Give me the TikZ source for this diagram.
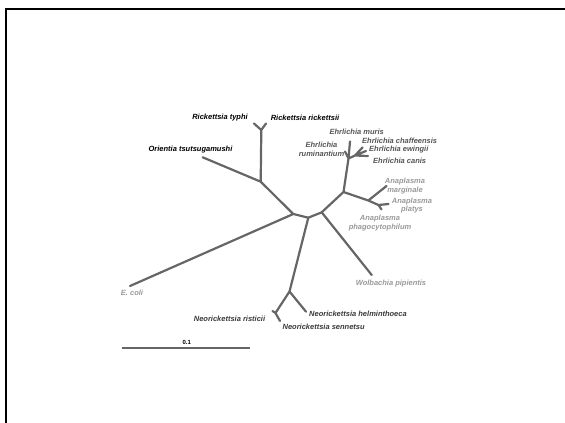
\documentclass[tikz,border=0pt]{standalone}
\usepackage{fontspec}
\setmainfont{Liberation Sans}
\usepackage{tikz}

\definecolor{treegrey}{HTML}{666666}
\definecolor{darklab}{HTML}{3A3A3A}
\definecolor{midlab}{HTML}{555555}
\definecolor{lightlab}{HTML}{999999}

\tikzset{
  branch/.style={draw=treegrey, line width=2.2pt, line cap=round, line join=round},
  taxon/.style={font=\fontsize{7.5}{8.6}\selectfont\bfseries\itshape, inner sep=0pt, align=center},
}

\begin{document}
\begin{tikzpicture}[x=1pt,y=-1pt]
\useasboundingbox (0,0) rectangle (565,423);
\draw[line width=2pt] (6,425) -- (6,9) -- (567,9);

% inner nodes
\coordinate (A) at (293.3,214);
\coordinate (B) at (308.3,217.7);
\coordinate (C) at (321.7,212.3);
\coordinate (R) at (260.7,181.7);
\coordinate (Rk) at (261.3,130);
\coordinate (N) at (289.5,291.5);
\coordinate (N2) at (275.5,313);
\coordinate (D) at (343.5,192);
\coordinate (Eh) at (348.5,158.5);
\coordinate (Es) at (355,155.5);
\coordinate (An) at (368.3,200.5);
\coordinate (Ap) at (378.5,205);
% tips
\coordinate (typhi) at (254,123.5);
\coordinate (rickettsii) at (266,123.5);
\coordinate (orientia) at (202.7,157.3);
\coordinate (ecoli) at (130,286);
\coordinate (risticii) at (272.5,311);
\coordinate (sennetsu) at (280,321);
\coordinate (helmin) at (306,311.7);
\coordinate (wolbachia) at (371.7,275);
\coordinate (rumin) at (345,151.5);
\coordinate (muris) at (350,141.5);
\coordinate (chaff) at (362.5,147.5);
\coordinate (ewing) at (366,151);
\coordinate (canis) at (368,156);
\coordinate (margin) at (386.5,186);
\coordinate (platys) at (388.5,204);
\coordinate (phago) at (381.5,209.5);

\draw[branch]
(A) -- (B) (B) -- (C)
(A) -- (R) (R) -- (Rk) (Rk) -- (typhi) (Rk) -- (rickettsii)
(R) -- (orientia)
(A) -- (ecoli)
(B) -- (N) (N) -- (N2) (N2) -- (risticii) (N2) -- (sennetsu)
(N) -- (helmin)
(C) -- (wolbachia)
(C) -- (D) (D) -- (Eh) (Eh) -- (rumin) (Eh) -- (muris) (Eh) -- (Es)
(Es) -- (chaff) (Es) -- (ewing) (Es) -- (canis)
(D) -- (An) (An) -- (margin) (An) -- (Ap) (Ap) -- (platys) (Ap) -- (phago);

\node[taxon, text=black] (lbtyphi) at (220,117.5) {Rickettsia typhi};
\node[taxon, text=black] (lbrick) at (305,117.5) {Rickettsia rickettsii};
\node[taxon, text=black] (lborient) at (190.5,150) {Orientia tsutsugamushi};
\node[taxon, text=midlab] (lbrumin) at (321.5,149.5) {Ehrlichia\\ruminantium};
\node[taxon, text=midlab] (lbmuris) at (356.7,132.3) {Ehrlichia muris};
\node[taxon, text=midlab, anchor=west] (lbchaff) at (362,140.7) {Ehrlichia chaffeensis};
\node[taxon, text=midlab, anchor=west] (lbewing) at (369,149.3) {Ehrlichia ewingii};
\node[taxon, text=midlab, anchor=west] (lbcanis) at (373,161) {Ehrlichia canis};
\node[taxon, text=lightlab] (lbmargin) at (405,186) {Anaplasma\\marginale};
\node[taxon, text=lightlab] (lbplatys) at (412,205.5) {Anaplasma\\platys};
\node[taxon, text=lightlab] (lbphago) at (380,223) {Anaplasma\\phagocytophilum};
\node[taxon, text=lightlab] (lbwolb) at (391,284) {Wolbachia pipientis};
\node[taxon, text=lightlab] (lbecoli) at (132,293) {E. coli};
\node[taxon, text=darklab] (lbristi) at (229.5,319.3) {Neorickettsia risticii};
\node[taxon, text=darklab] (lbhelm) at (358,314) {Neorickettsia helminthoeca};
\node[taxon, text=darklab] (lbsenn) at (323.7,327.3) {Neorickettsia sennetsu};

% scale bar
\coordinate (bar0) at (121.5,347.7);
\coordinate (bar1) at (250,347.7);
\draw[branch, line cap=butt] (bar0) -- (bar1);
\node[font=\fontsize{6}{7}\selectfont\bfseries, inner sep=0pt] (lbbar) at (186.7,342.5) {0.1};
\end{tikzpicture}
\end{document}
